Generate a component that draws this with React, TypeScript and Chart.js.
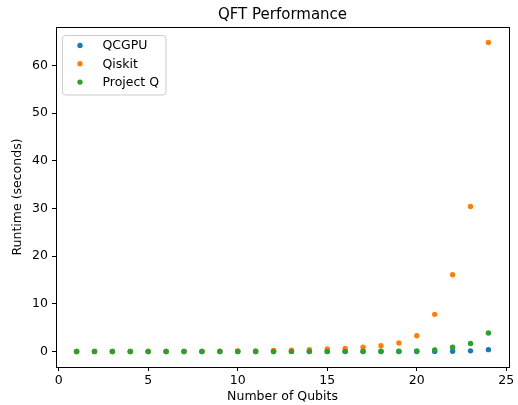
import React, { useEffect, useRef } from 'react';
import { Chart, registerables } from 'chart.js';

Chart.register(...registerables);

const qubits = [1, 2, 3, 4, 5, 6, 7, 8, 9, 10, 11, 12, 13, 14, 15, 16, 17, 18, 19, 20, 21, 22, 23, 24];
const qcgpuTimes = [0.01, 0.01, 0.01, 0.01, 0.01, 0.01, 0.01, 0.01, 0.01, 0.01, 0.01, 0.01, 0.01, 0.01, 0.01, 0.01, 0.01, 0.01, 0.01, 0.02, 0.03, 0.06, 0.15, 0.4];
const qiskitTimes = [0.01, 0.01, 0.01, 0.01, 0.01, 0.02, 0.03, 0.04, 0.06, 0.1, 0.15, 0.22, 0.3, 0.4, 0.55, 0.65, 0.9, 1.2, 1.8, 3.3, 7.8, 16.1, 30.4, 64.8];
const projectQTimes = [0.02, 0.02, 0.02, 0.02, 0.02, 0.02, 0.02, 0.02, 0.02, 0.02, 0.02, 0.02, 0.03, 0.03, 0.03, 0.04, 0.05, 0.06, 0.08, 0.15, 0.35, 0.9, 1.7, 3.9];
const seriesNames = ['QCGPU', 'Qiskit', 'Project Q'];
const seriesColors = ['#1f77b4', '#ff7f0e', '#2ca02c'];
const xTicks = [0, 5, 10, 15, 20, 25];
const yTicks = [0, 10, 20, 30, 40, 50, 60];
const chartTitle = 'QFT Performance';
const xTitle = 'Number of Qubits';
const yTitle = 'Runtime (seconds)';

const FONT = '"DejaVu Sans", sans-serif';

const decorPlugin = {
  id: 'decor',
  afterDatasetsDraw(chart: any) {
    const { ctx, chartArea } = chart;
    const { left, right, top, bottom } = chartArea;
    ctx.save();
    // frame
    ctx.strokeStyle = '#000';
    ctx.lineWidth = 1;
    ctx.strokeRect(Math.round(left) + 0.5, Math.round(top) + 0.5, Math.round(right - left), Math.round(bottom - top));
    // legend
    const lx = 62.5, ly = 35.5, lw = 103.5, lh = 59.5;
    ctx.beginPath();
    (ctx as any).roundRect(lx, ly, lw, lh, 3);
    ctx.fillStyle = 'rgba(255,255,255,0.8)';
    ctx.fill();
    ctx.strokeStyle = '#cccccc';
    ctx.stroke();
    ctx.font = `12.5px ${FONT}`;
    ctx.textBaseline = 'middle';
    ctx.textAlign = 'left';
    chart.data.datasets.forEach((ds: any, i: number) => {
      const cy = 45.5 + 18.3 * i;
      ctx.beginPath();
      ctx.arc(80, cy, 2.7, 0, Math.PI * 2);
      ctx.fillStyle = ds.backgroundColor;
      ctx.fill();
      ctx.fillStyle = '#000';
      ctx.fillText(ds.label, 102.5, cy + 0.5);
    });
    // titles
    ctx.fillStyle = '#000';
    ctx.textAlign = 'center';
    ctx.font = `15px ${FONT}`;
    ctx.fillText(chartTitle, (left + right) / 2, 15);
    ctx.font = `12.5px ${FONT}`;
    ctx.fillText(xTitle, (left + right) / 2, 397);
    ctx.translate(18, (top + bottom) / 2);
    ctx.rotate(-Math.PI / 2);
    ctx.fillText(yTitle, 0, 0);
    ctx.restore();
  },
};

export default function App() {
  const ref = useRef<HTMLCanvasElement>(null);
  useEffect(() => {
    document.body.style.margin = '0';
    const series = [qcgpuTimes, qiskitTimes, projectQTimes];
    const chart = new Chart(ref.current as HTMLCanvasElement, {
      type: 'scatter',
      data: {
        datasets: series.map((vals, i) => ({
          label: seriesNames[i],
          data: qubits.map((q, j) => ({ x: q, y: vals[j] })),
          backgroundColor: seriesColors[i],
          borderColor: seriesColors[i],
          pointRadius: 2.7,
          pointBorderWidth: 0,
          order: 3 - i,
        })),
      },
      options: {
        responsive: false,
        animation: false,
        devicePixelRatio: 1,
        layout: { padding: { left: 0, right: 9, top: 27, bottom: 0 } },
        plugins: { legend: { display: false }, title: { display: false }, tooltip: { enabled: false } },
        scales: {
          x: {
            type: 'linear',
            position: 'bottom',
            min: -0.15,
            max: 25.15,
            afterBuildTicks: (s: any) => { s.ticks = xTicks.map((v) => ({ value: v })); },
            afterFit: (s: any) => { s.height = 38; },
            grid: { display: true, drawOnChartArea: false, drawTicks: true, tickLength: 4, color: '#000' },
            border: { display: true, color: '#000', width: 1 },
            ticks: { color: '#000', font: { family: FONT, size: 12.5 }, padding: 2, maxRotation: 0, autoSkip: false },
          },
          y: {
            type: 'linear',
            min: -3.24,
            max: 68.04,
            afterBuildTicks: (s: any) => { s.ticks = yTicks.map((v) => ({ value: v })); },
            afterFit: (s: any) => { s.width = 56; },
            grid: { display: true, drawOnChartArea: false, drawTicks: true, tickLength: 4, color: '#000' },
            border: { display: true, color: '#000', width: 1 },
            ticks: { color: '#000', font: { family: FONT, size: 12.5 }, padding: 4, autoSkip: false },
          },
        },
      },
      plugins: [decorPlugin],
    } as any);
    return () => chart.destroy();
  }, []);
  return (
    <div style={{ width: 518, height: 405 }}>
      <canvas ref={ref} width={518} height={405} />
    </div>
  );
}
